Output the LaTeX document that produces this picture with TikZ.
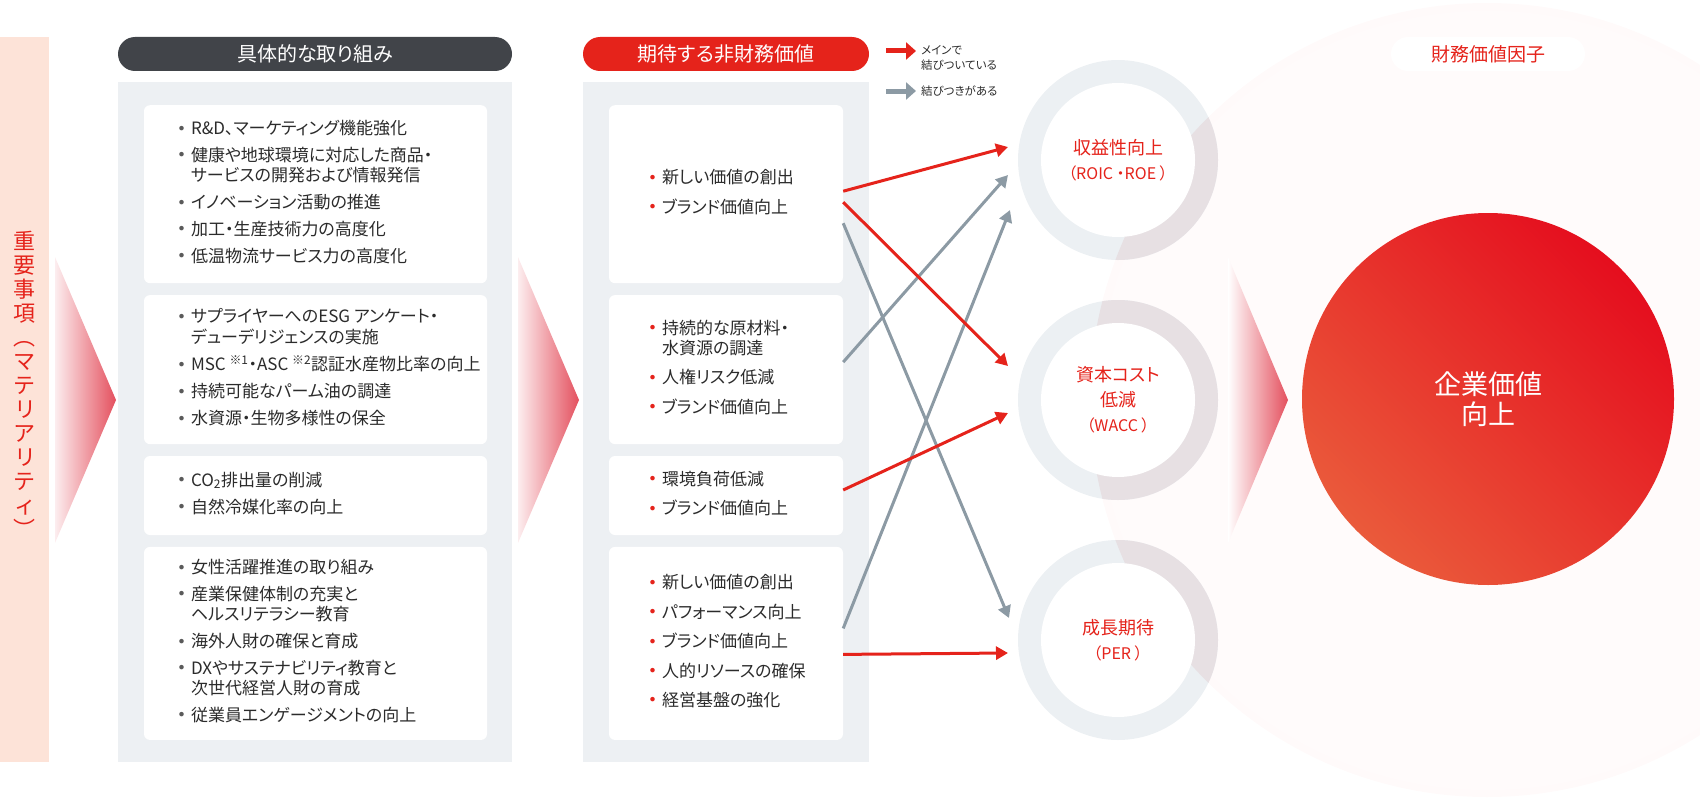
\documentclass[tikz,border=0pt]{standalone}
\usepackage{fontspec}
\setmainfont{Noto Sans CJK JP}[RawFeature={+palt}]
\usetikzlibrary{arrows.meta,positioning,calc}

\definecolor{matpink}{HTML}{FDE3D8}
\definecolor{hddark}{HTML}{414449}
\definecolor{hdred}{HTML}{E5231B}
\definecolor{panelgray}{HTML}{EDF0F3}
\definecolor{inkdark}{HTML}{2B2B2B}
\definecolor{dotgray}{HTML}{5A5A5A}
\definecolor{linkgray}{HTML}{8C9AA4}
\definecolor{ringgray}{HTML}{ECF0F3}
\definecolor{ringover}{HTML}{E7E0E3}
\definecolor{glowin}{HTML}{FFFBFB}
\definecolor{glowpink}{HTML}{FADFE0}
\definecolor{trired}{HTML}{E4505E}
\definecolor{evtop}{HTML}{E50E1E}
\definecolor{evbot}{HTML}{EA5A3B}

\pgfdeclareradialshading{glow}{\pgfpoint{0bp}{0bp}}{%
  color(0bp)=(glowin); color(24bp)=(glowin); color(40bp)=(glowpink!55!glowin); color(50bp)=(glowpink)}

\newcommand{\bul}[1]{\makebox[12pt][l]{\raisebox{4.5pt}{\fontsize{5pt}{5pt}\selectfont\textcolor{#1}{●}}}}
\newcommand{\actitem}{\bul{dotgray}&}
\newcommand{\valitem}{\bul{hdred}&}

\begin{document}
\begin{tikzpicture}[x=1pt,y=-1pt,>={Triangle[length=12pt,width=13pt]},
                    node distance=11.5pt,
                    box/.style={fill=white,rounded corners=6pt,inner sep=0pt},
                    panel/.style={fill=panelgray,inner sep=0pt,anchor=north},
                    pill/.style={rounded corners=17pt,minimum height=34pt,inner sep=0pt,
                                 font=\fontsize{20pt}{24pt}\selectfont},
                    items/.style={anchor=west,inner sep=0pt,text=inkdark,
                                  font=\fontsize{17pt}{20pt}\selectfont},
                    goal/.style={circle,fill=white,minimum size=154pt,inner sep=0pt,
                                 align=center,text=hdred,font=\fontsize{18pt}{25pt}\selectfont},
                    conn/.style={->,line width=3pt},
                    legarrow/.style={-{Triangle[length=10pt,width=17pt]},line width=5pt},
                    legtext/.style={anchor=west,align=left,inner sep=0pt,text=inkdark,
                                    font=\fontsize{11.5pt}{15pt}\selectfont}]
\useasboundingbox (0,0) rectangle (1700,800);
\begin{scope}
  \clip (0,0) rectangle (1700,800);
  \shade [shading=glow] (1487,400) circle (397pt);
\end{scope}

\node [fill=matpink,minimum width=49pt,minimum height=725pt,inner sep=0pt,anchor=north west] (mbar) at (0,37) {};
\node [text=hdred,align=center,inner sep=0pt,font=\fontsize{22pt}{24pt}\selectfont] (mtext) at ([yshift=15pt]mbar.center)
      {重\\要\\事\\項\\︵\\マ\\テ\\リ\\ア\\リ\\テ\\ィ\\︶};
\shade [left color=trired!10,right color=trired] (55,257) -- (116,400) -- (55,543) -- cycle;
\shade [left color=trired!10,right color=trired] (518,257) -- (579,400) -- (518,543) -- cycle;

\node [pill,fill=hddark,text=white,minimum width=394pt] (h1) at (315,54) {具体的な取り組み};
\node [panel,minimum width=394pt,minimum height=680pt] (p1) at (315,82) {};
\node [box,minimum width=343pt,minimum height=178pt,anchor=north] (b11) at (315.5,105) {};
\node [box,minimum width=343pt,minimum height=149pt] (b12) [below=of b11] {};
\node [box,minimum width=343pt,minimum height=79pt]  (b13) [below=of b12] {};
\node [box,minimum width=343pt,minimum height=193pt] (b14) [below=of b13] {};
\node [items] (t11) at ([xshift=35pt]b11.west) {\begin{tabular}{@{}l@{}l@{}}
  \actitem R\&D、マーケティング機能強化\\[6.5pt]
  \actitem 健康や地球環境に対応した商品・\\
  & サービスの開発および情報発信\\[6.5pt]
  \actitem イノベーション活動の推進\\[6.5pt]
  \actitem 加工・生産技術力の高度化\\[6.5pt]
  \actitem 低温物流サービス力の高度化
\end{tabular}};
\node [items] (t12) at ([xshift=35pt]b12.west) {\begin{tabular}{@{}l@{}l@{}}
  \actitem サプライヤーへのESG アンケート・\\
  & デューデリジェンスの実施\\[6.5pt]
  \actitem MSC \textsuperscript{※1}・ASC \textsuperscript{※2}認証水産物比率の向上\\[6.5pt]
  \actitem 持続可能なパーム油の調達\\[6.5pt]
  \actitem 水資源・生物多様性の保全
\end{tabular}};
\node [items] (t13) at ([xshift=35pt]b13.west) {\begin{tabular}{@{}l@{}l@{}}
  \actitem CO\textsubscript{2}排出量の削減\\[6.5pt]
  \actitem 自然冷媒化率の向上
\end{tabular}};
\node [items] (t14) at ([xshift=35pt]b14.west) {\begin{tabular}{@{}l@{}l@{}}
  \actitem 女性活躍推進の取り組み\\[6.5pt]
  \actitem 産業保健体制の充実と\\
  & ヘルスリテラシー教育\\[6.5pt]
  \actitem 海外人財の確保と育成\\[6.5pt]
  \actitem DXやサステナビリティ教育と\\
  & 次世代経営人財の育成\\[6.5pt]
  \actitem 従業員エンゲージメントの向上
\end{tabular}};

\node [pill,fill=hdred,text=white,minimum width=286pt] (h2) at (726,54) {期待する非財務価値};
\node [panel,minimum width=286pt,minimum height=680pt] (p2) at (726,82) {};
\node [box,minimum width=234pt,minimum height=178pt,anchor=north] (b21) at (726,105) {};
\node [box,minimum width=234pt,minimum height=149pt] (b22) [below=of b21] {};
\node [box,minimum width=234pt,minimum height=79pt]  (b23) [below=of b22] {};
\node [box,minimum width=234pt,minimum height=193pt] (b24) [below=of b23] {};
\node [items,font=\fontsize{17pt}{19pt}\selectfont] (t21) at ([xshift=41pt]b21.west) {\begin{tabular}{@{}l@{}l@{}}
  \valitem 新しい価値の創出\\[9.3pt]
  \valitem ブランド価値向上
\end{tabular}};
\node [items,font=\fontsize{17pt}{19pt}\selectfont] (t22) at ([xshift=41pt]b22.west) {\begin{tabular}{@{}l@{}l@{}}
  \valitem 持続的な原材料・\\
  & 水資源の調達\\[9.3pt]
  \valitem 人権リスク低減\\[9.3pt]
  \valitem ブランド価値向上
\end{tabular}};
\node [items,font=\fontsize{17pt}{19pt}\selectfont] (t23) at ([xshift=41pt]b23.west) {\begin{tabular}{@{}l@{}l@{}}
  \valitem 環境負荷低減\\[9.3pt]
  \valitem ブランド価値向上
\end{tabular}};
\node [items,font=\fontsize{17pt}{19pt}\selectfont] (t24) at ([xshift=41pt]b24.west) {\begin{tabular}{@{}l@{}l@{}}
  \valitem 新しい価値の創出\\[9.3pt]
  \valitem パフォーマンス向上\\[9.3pt]
  \valitem ブランド価値向上\\[9.3pt]
  \valitem 人的リソースの確保\\[9.3pt]
  \valitem 経営基盤の強化
\end{tabular}};

\coordinate (k1a) at (886,51);
\coordinate (k1b) at (916,51);
\coordinate (k2a) at (886,91);
\coordinate (k2b) at (916,91);
\draw [legarrow,hdred] (k1a) -- (k1b);
\draw [legarrow,linkgray] (k2a) -- (k2b);
\node [legtext] (k1t) at (921,57.5) {メインで\\結びついている};
\node [legtext] (k2t) at (921,91) {結びつきがある};

\foreach \cy in {160,400,640}
  \fill [ringgray] (1118,\cy) circle (100pt);
\begin{scope}
  \clip (1487,400) circle (397pt);
  \foreach \cy in {160,400,640}
    \fill [ringover] (1118,\cy) circle (100pt);
\end{scope}
\node [goal] (g1) at (1118,160) {収益性向上\\{\fontsize{16pt}{25pt}\selectfont （ROIC ・ROE ）}};
\node [goal] (g2) at (1118,400) {資本コスト\\低減\\{\fontsize{16pt}{25pt}\selectfont （WACC ）}};
\node [goal] (g3) at (1118,640) {成長期待\\{\fontsize{16pt}{25pt}\selectfont （PER ）}};

\shade [left color=white,right color=trired] (1228,257) -- (1288,400) -- (1228,543) -- cycle;
\node [circle,minimum size=372pt,inner sep=0pt,top color=evtop,bottom color=evbot,shading angle=-45,
       text=white,align=center,font=\fontsize{27pt}{30pt}\selectfont] (ev) at (1488,399) {企業価値\\向上};
\node [pill,fill=white,text=hdred,minimum width=194pt,font=\fontsize{19pt}{22pt}\selectfont] (fv) at (1488,54) {財務価値因子};

\draw [conn,linkgray] ($(b21.east)+(0,29)$)   -- ($(g3)+(-109,-22)$);
\draw [conn,linkgray] ($(b22.east)+(0,-7.5)$) -- ($(g1)+(-110,15)$);
\draw [conn,linkgray] ($(b24.east)+(0,-15)$)  -- ($(g1)+(-108,50)$);
\draw [conn,hdred] ($(b21.east)+(0,-3)$)   -- ($(g1)+(-110,-13)$);
\draw [conn,hdred] ($(b21.east)+(0,8)$)    -- ($(g2)+(-110,-34)$);
\draw [conn,hdred] ($(b23.east)+(0,-5.5)$) -- ($(g2)+(-110,13)$);
\draw [conn,hdred] ($(b24.east)+(0,11)$)   -- ($(g3)+(-110,13)$);
\end{tikzpicture}
\end{document}
